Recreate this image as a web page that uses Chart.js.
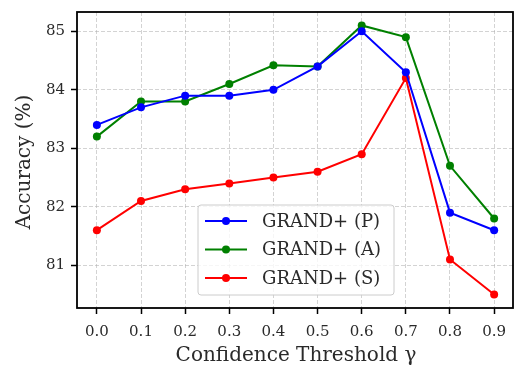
<!DOCTYPE html>
<html lang="en">
<head>
    <meta charset="UTF-8" />
    <title>Accuracy vs Confidence Threshold</title>
    <style>
        html, body {
            margin: 0;
            padding: 0;
            background: #fff;
        }
        #chart-container {
            width: 514px;
            height: 369px;
        }
    </style>
    <script src="https://cdn.jsdelivr.net/npm/chart.js"></script>
</head>
<body>
<div id="chart-container">
    <canvas id="accChart"></canvas>
</div>

<script>
  const thresholds = [0.0, 0.1, 0.2, 0.3, 0.4, 0.5, 0.6, 0.7, 0.8, 0.9];
  const accP = [83.4, 83.7, 83.9, 83.9, 84.0, 84.4, 85.0, 84.3, 81.9, 81.6];
  const accA = [83.2, 83.8, 83.8, 84.1, 84.42, 84.4, 85.1, 84.9, 82.7, 81.8];
  const accS = [81.6, 82.1, 82.3, 82.4, 82.5, 82.6, 82.9, 84.2, 81.1, 80.5];
  const yTicks = [81, 82, 83, 84, 85];
  const seriesNames = ["GRAND+ (P)", "GRAND+ (A)", "GRAND+ (S)"];

  const SERIF = "'DejaVu Serif', 'Liberation Serif', serif";
  const TEXT = "#2a2a2a";

  function makeSeries(label, values, color) {
    return {
      label: label,
      data: thresholds.map((x, i) => ({ x: x, y: values[i] })),
      borderColor: color,
      backgroundColor: color,
      borderWidth: 2,
      pointRadius: 4,
      pointHoverRadius: 4,
      pointBorderWidth: 0,
      tension: 0,
    };
  }

  // box around the plot, legend and axis titles
  const extras = {
    id: "extras",
    afterDatasetsDraw(chart) {
      const { ctx, chartArea: a } = chart;
      ctx.save();
      ctx.strokeStyle = "#000";
      ctx.lineWidth = 1.8;
      ctx.strokeRect(a.left, a.top, a.right - a.left - 1, a.bottom - a.top);

      // legend
      const lx = 198, ly = 205, lw = 196, lh = 90;
      ctx.beginPath();
      ctx.roundRect(lx, ly, lw, lh, 3);
      ctx.fillStyle = "rgba(255,255,255,0.8)";
      ctx.fill();
      ctx.strokeStyle = "#cccccc";
      ctx.lineWidth = 1;
      ctx.stroke();
      ctx.font = "18px " + SERIF;
      ctx.textBaseline = "middle";
      ctx.textAlign = "left";
      chart.data.datasets.forEach((ds, i) => {
        const y = 221 + i * 28.5;
        ctx.strokeStyle = ds.borderColor;
        ctx.lineWidth = 2;
        ctx.beginPath();
        ctx.moveTo(205, y);
        ctx.lineTo(247, y);
        ctx.stroke();
        ctx.fillStyle = ds.borderColor;
        ctx.beginPath();
        ctx.arc(226, y, 4, 0, Math.PI * 2);
        ctx.fill();
        ctx.fillStyle = TEXT;
        ctx.fillText(ds.label, 262, y + 1);
      });

      // axis titles
      ctx.fillStyle = TEXT;
      ctx.font = "20px " + SERIF;
      ctx.textAlign = "center";
      ctx.fillText("Confidence Threshold \u03b3", 296, 356);
      ctx.translate(25, 162);
      ctx.rotate(-Math.PI / 2);
      ctx.fillText("Accuracy (%)", 0, 0);
      ctx.restore();
    },
  };

  const gridStyle = {
    color: "rgba(176,176,176,0.7)",
    lineWidth: 0.8,
    tickColor: "#000",
    tickLength: 6,
    tickWidth: 1.5,
    tickBorderDash: [],
  };

  const ctx = document.getElementById("accChart").getContext("2d");
  new Chart(ctx, {
    type: "line",
    data: {
      datasets: [
        makeSeries(seriesNames[0], accP, "#0000ff"),
        makeSeries(seriesNames[1], accA, "#008000"),
        makeSeries(seriesNames[2], accS, "#ff0000"),
      ],
    },
    plugins: [extras],
    options: {
      responsive: true,
      maintainAspectRatio: false,
      animation: false,
      layout: {
        autoPadding: false,
        padding: { top: 12, right: 0, left: 0, bottom: 0 },
      },
      scales: {
        x: {
          type: "linear",
          min: -0.045,
          max: 0.945,
          afterBuildTicks: (scale) => {
            scale.ticks = thresholds.map((v) => ({ value: v }));
          },
          afterFit: (scale) => {
            scale.height = 61;
            scale.paddingLeft = 0;
            scale.paddingRight = 0;
          },
          ticks: {
            font: { family: SERIF, size: 15 },
            color: TEXT,
            padding: 9,
            maxRotation: 0,
            callback: (v) => v.toFixed(1),
          },
          grid: gridStyle,
          border: { display: false, dash: [4, 2] },
        },
        y: {
          min: 80.27,
          max: 85.33,
          afterBuildTicks: (scale) => {
            scale.ticks = yTicks.map((v) => ({ value: v }));
          },
          afterFit: (scale) => {
            scale.width = 77;
            scale.paddingTop = 0;
            scale.paddingBottom = 0;
          },
          ticks: {
            font: { family: SERIF, size: 15 },
            color: TEXT,
            padding: 6,
            callback: (v) => String(v),
          },
          grid: gridStyle,
          border: { display: false, dash: [4, 2] },
        },
      },
      plugins: {
        legend: { display: false },
        tooltip: { enabled: false },
      },
    },
  });
</script>
</body>
</html>
